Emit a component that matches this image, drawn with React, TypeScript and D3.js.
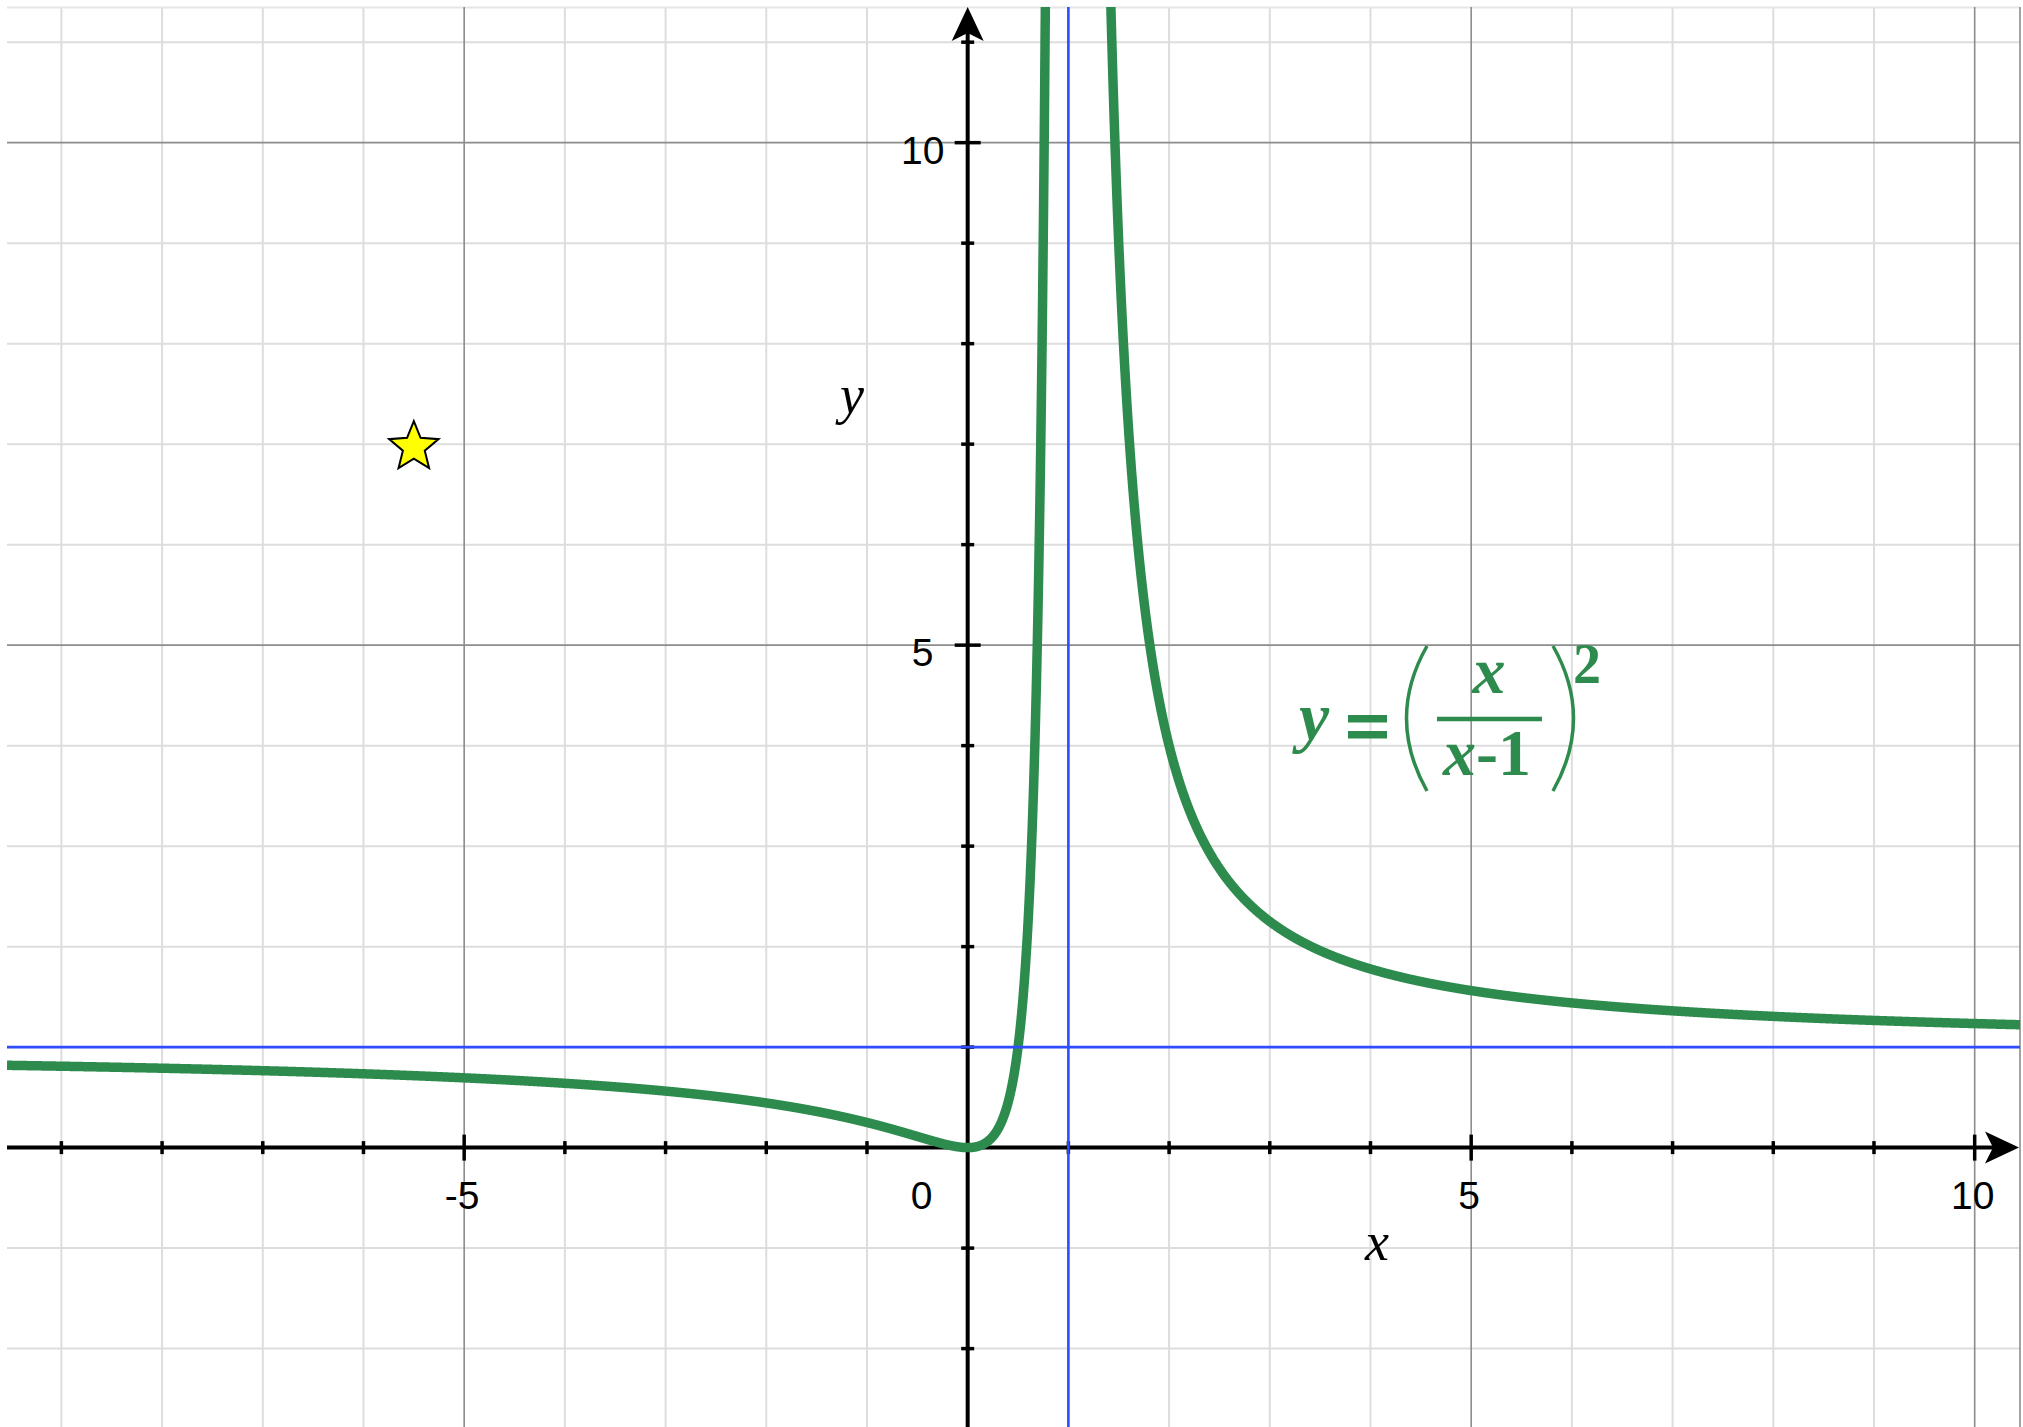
import React from "react";
import * as d3 from "d3";

// Canvas
const W = 2023;
const H = 1427;

// Visible window in graph units
const xDomain = [-9.54, 10.45];
const yDomain = [-2.78, 11.35];

// Grid / tick values
const xTicks = [-9, -8, -7, -6, -5, -4, -3, -2, -1, 1, 2, 3, 4, 5, 6, 7, 8, 9, 10];
const yTicks = [-2, -1, 1, 2, 3, 4, 5, 6, 7, 8, 9, 10, 11];
const xTickLabels = [-5, 5, 10];
const yTickLabels = [5, 10];
const majorStep = 5;

// Asymptotes of the plotted function
const verticalAsymptotes = [1];
const horizontalAsymptotes = [1];

// Marked point
const starPoint = [-5.5, 6.97];

// Plotted function, as written in its label: y = (x / (x - 1))^2
const f = (x: number) => Math.pow(x / (x - 1), 2);

const GREEN = "#2e8b4e";
const BLUE = "#2f4dff";

const plot = { left: 7, right: 2020, top: 7, bottom: 1427 };

export default function App() {
  const x = d3.scaleLinear().domain(xDomain).range([plot.left, plot.right]);
  const y = d3.scaleLinear().domain(yDomain).range([plot.bottom, plot.top]);

  const x0 = x(0);
  const y0 = y(0);

  // sample each branch separately on either side of the pole
  const sampleBranch = (a: number, b: number) => {
    const pts: [number, number][] = [];
    const n = 3000;
    for (let i = 0; i <= n; i++) {
      const xv = a + ((b - a) * i) / n;
      const yv = f(xv);
      if (yv < 30) pts.push([xv, yv]);
    }
    return pts;
  };
  const leftBranch = sampleBranch(xDomain[0], 0.9);
  const rightBranch = sampleBranch(1.1, xDomain[1]);
  const line = d3
    .line<[number, number]>()
    .x((d) => x(d[0]))
    .y((d) => y(d[1]))
    .curve(d3.curveLinear);

  const isMajor = (v: number) => v % majorStep === 0;

  // five-pointed star
  const starPath = (() => {
    const cx = x(starPoint[0]);
    const cy = y(starPoint[1]);
    const ro = 26;
    const ri = 11.5;
    const pts: string[] = [];
    for (let i = 0; i < 10; i++) {
      const r = i % 2 === 0 ? ro : ri;
      const a = -Math.PI / 2 + (i * Math.PI) / 5;
      pts.push(`${cx + r * Math.cos(a)},${cy + r * Math.sin(a)}`);
    }
    return "M" + pts.join("L") + "Z";
  })();

  const xArrowTip = 2019;
  const yArrowTip = 7;

  return (
    <div style={{ position: "absolute", left: 0, top: 0 }}>
      <svg width={W} height={H} style={{ display: "block", background: "#fff" }}>
        <defs>
          <clipPath id="plotClip">
            <rect x={plot.left} y={plot.top} width={plot.right - plot.left} height={plot.bottom - plot.top} />
          </clipPath>
        </defs>

        {/* minor grid */}
        <g stroke="#dddddd" strokeWidth={2}>
          {xTicks.filter((v) => !isMajor(v)).map((v) => (
            <line key={"gx" + v} x1={x(v)} x2={x(v)} y1={plot.top} y2={plot.bottom} />
          ))}
          {yTicks.filter((v) => !isMajor(v)).map((v) => (
            <line key={"gy" + v} x1={plot.left} x2={plot.right} y1={y(v)} y2={y(v)} />
          ))}
          <line x1={plot.left} x2={plot.right} y1={plot.top + 0.5} y2={plot.top + 0.5} stroke="#e6e6e6" />
        </g>
        {/* major grid */}
        <g stroke="#8c8c8c" strokeWidth={1.6}>
          {xTicks.filter(isMajor).map((v) => (
            <line key={"mx" + v} x1={x(v)} x2={x(v)} y1={plot.top} y2={plot.bottom} />
          ))}
          {yTicks.filter(isMajor).map((v) => (
            <line key={"my" + v} x1={plot.left} x2={plot.right} y1={y(v)} y2={y(v)} />
          ))}
          <line x1={plot.right} x2={plot.right} y1={plot.top} y2={plot.bottom} />
        </g>

        {/* axes */}
        <g stroke="#000" strokeWidth={4}>
          <line x1={plot.left} x2={xArrowTip - 20} y1={y0} y2={y0} />
          <line x1={x0} x2={x0} y1={plot.bottom} y2={yArrowTip + 20} />
          {xTicks.map((v) => {
            const h = isMajor(v) ? 13 : 6.5;
            return <line key={"tx" + v} x1={x(v)} x2={x(v)} y1={y0 - h} y2={y0 + h} strokeWidth={3.5} />;
          })}
          {yTicks.map((v) => {
            const h = isMajor(v) ? 13 : 6.5;
            return <line key={"ty" + v} x1={x0 - h} x2={x0 + h} y1={y(v)} y2={y(v)} strokeWidth={3.5} />;
          })}
        </g>
        <path
          d={`M${xArrowTip},${y0} L${xArrowTip - 34},${y0 - 16} L${xArrowTip - 26},${y0} L${xArrowTip - 34},${y0 + 16} Z`}
          fill="#000"
        />
        <path
          d={`M${x0},${yArrowTip} L${x0 - 16},${yArrowTip + 34} L${x0},${yArrowTip + 26} L${x0 + 16},${yArrowTip + 34} Z`}
          fill="#000"
        />

        {/* tick labels */}
        <g fontFamily="'Liberation Sans', Arial, sans-serif" fontSize={39} fill="#000" textAnchor="middle">
          {xTickLabels.map((v) => (
            <text key={"lx" + v} x={x(v) - 2} y={y0 + 61}>
              {v < 0 ? "-" + Math.abs(v) : String(v)}
            </text>
          ))}
          <text x={x0 - 46} y={y0 + 61}>0</text>
          {yTickLabels.map((v) => (
            <text key={"ly" + v} x={x0 - 45} y={y(v) + 21}>
              {String(v)}
            </text>
          ))}
        </g>

        {/* axis names */}
        <g fontFamily="'Liberation Serif', 'Times New Roman', serif" fontStyle="italic" fontSize={54} fill="#000" textAnchor="middle">
          <text x={852} y={413}>y</text>
          <text x={1377} y={1260}>x</text>
        </g>

        {/* function graph */}
        <g clipPath="url(#plotClip)" fill="none" stroke={GREEN} strokeWidth={9.5} strokeLinejoin="round">
          <path d={line(leftBranch) || ""} />
          <path d={line(rightBranch) || ""} />
        </g>

        {/* asymptotes */}
        <g stroke={BLUE} strokeWidth={2.6}>
          {verticalAsymptotes.map((v) => (
            <line key={"va" + v} x1={x(v)} x2={x(v)} y1={plot.top} y2={plot.bottom} />
          ))}
          {horizontalAsymptotes.map((v) => (
            <line key={"ha" + v} x1={plot.left} x2={plot.right} y1={y(v)} y2={y(v)} />
          ))}
        </g>

        {/* star marker */}
        <path d={starPath} fill="#ffff00" stroke="#000" strokeWidth={2} strokeLinejoin="miter" />

        {/* formula label */}
        <g fill={GREEN} fontFamily="'Liberation Serif', 'Times New Roman', serif" fontWeight="bold">
          <text x={1299} y={740} fontSize={68} fontStyle="italic">y</text>
          <rect x={1348} y={715} width={39} height={7.5} />
          <rect x={1348} y={731} width={39} height={7.5} />
          <path d="M1427,646 Q1386,718 1427,791" fill="none" stroke={GREEN} strokeWidth={3.5} />
          <line x1={1437} x2={1542} y1={719} y2={719} stroke={GREEN} strokeWidth={4.5} />
          <text x={1489} y={693} fontSize={66} fontStyle="italic" textAnchor="middle">x</text>
          <text x={1487} y={775} fontSize={66} textAnchor="middle">
            <tspan fontStyle="italic">x</tspan>
            <tspan>-1</tspan>
          </text>
          <path d="M1553,646 Q1594,718 1553,791" fill="none" stroke={GREEN} strokeWidth={3.5} />
          <text x={1573} y={683} fontSize={56}>2</text>
        </g>
      </svg>
    </div>
  );
}
